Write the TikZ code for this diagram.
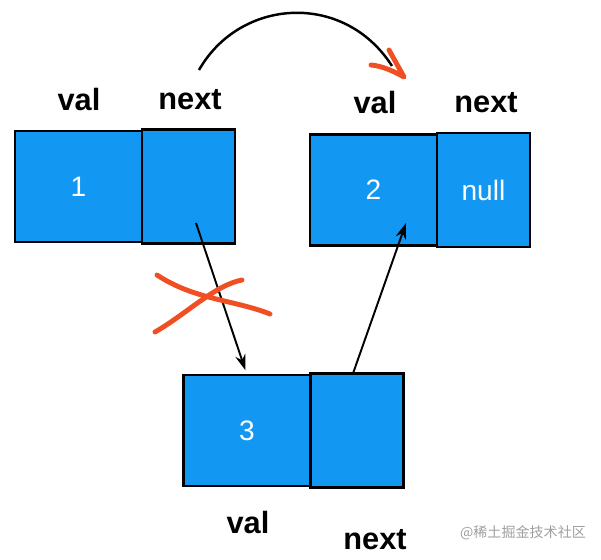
\documentclass[tikz,border=0pt]{standalone}
\usepackage{fontspec}
\setmainfont{Liberation Sans}
\newfontfamily\cjk{Noto Sans CJK SC}
\usetikzlibrary{positioning,arrows.meta}
\definecolor{cellblue}{RGB}{18,152,242}
\definecolor{penred}{RGB}{240,78,35}

\begin{document}
\begin{tikzpicture}[
    x=0.02cm, y=-0.02cm,
    valcell/.style={draw, fill=cellblue, line width=1.4pt, outer sep=0pt, text=white, minimum width=2.54cm, minimum height=2.22cm, font=\fontsize{16}{19}\selectfont},
    nextcell/.style={valcell, minimum width=1.86cm, minimum height=2.28cm},
    field/.style={font=\fontsize{17.5}{20}\selectfont\bfseries},
    link/.style={-{Stealth[length=9pt,width=6pt]}, line width=1.1pt},
    pen/.style={penred, line width=2.8pt, line cap=round, line join=round}
]
\useasboundingbox (0,0) rectangle (601,560);

% the three list nodes
\node[valcell] (v1) at (78.5,186.5) {1};
\node[nextcell, right=0pt of v1] (n1) {};
\node[valcell] (v2) at (373.5,190) {2};
\node[nextcell, right=0pt of v2] (n2) {null};
\node[valcell] (v3) at (247,430.5) {3};
\node[nextcell, right=0pt of v3] (n3) {};

% field names
\node[field] (v1lab) at (79,100) {val};
\node[field] (n1lab) at (190,100) {next};
\node[field] (v2lab) at (375,103) {val};
\node[field] (n2lab) at (486,103) {next};
\node[field] (v3lab) at (248,523) {val};
\node[field] (n3lab) at (375,540) {next};

% pointers
\coordinate (p1) at (196,223);
\coordinate (p2) at (406,223);
\draw[link, shorten >=0.1cm] (p1) -- (v3.north);
\draw[link] ([xshift=-0.08cm]n3.north) -- (p2);

% old link, jumped over
\coordinate (c1) at (199,70);
\coordinate (c2) at (392,66);
\draw[line width=1.4pt] (c1) .. controls (240,-2) and (344,-9) .. (c2);
\draw[pen] (371,65) .. controls (383,66) and (395,72) .. (404,77) -- (389,50);

% cross-out
\draw[pen] (157,275) .. controls (195,300) and (235,300) .. (270,314);
\draw[pen] (155,332) .. controls (185,315) and (215,285) .. (242,280);

\node[text=gray!75, font=\cjk\fontsize{8}{10}\selectfont] (mark) at (523,533) {@稀土掘金技术社区};
\end{tikzpicture}
\end{document}
